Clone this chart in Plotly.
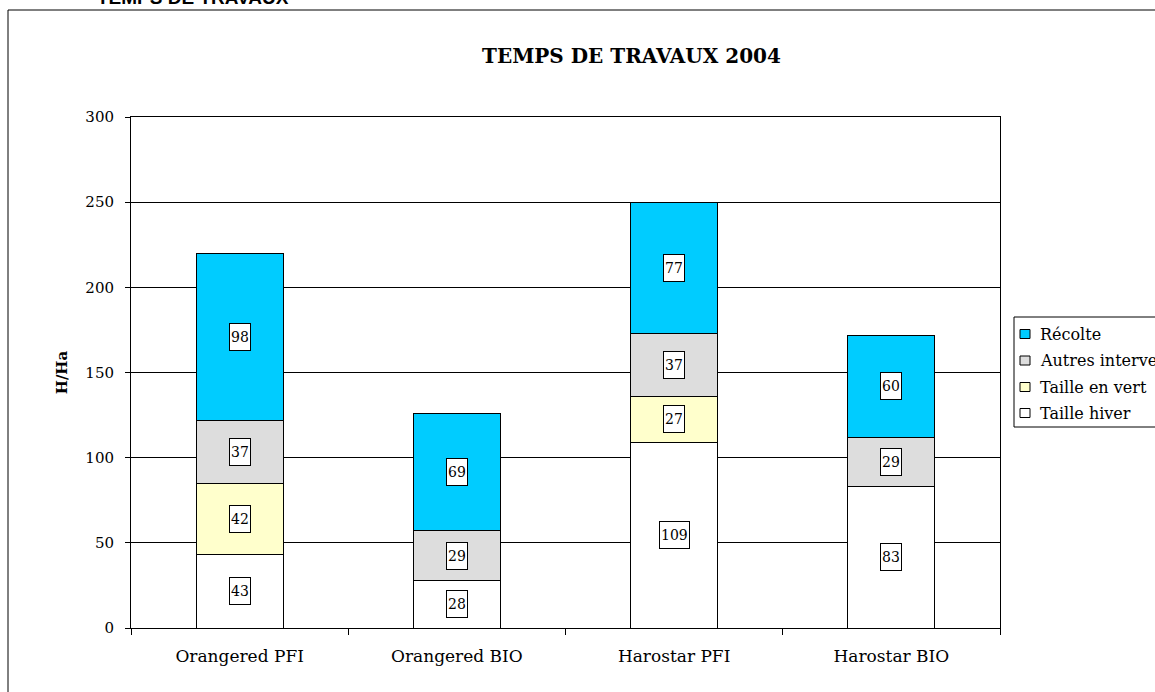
import plotly.graph_objects as go

categories = ["Orangered PFI", "Orangered BIO", "Harostar PFI", "Harostar BIO"]
taille_hiver = [43, 28, 109, 83]
taille_vert = [42, 0, 27, 0]
autres_interv = [37, 29, 37, 29]
recolte = [98, 69, 77, 60]

series_names = ["Taille hiver", "Taille en vert", "Autres interventions", "Récolte"]
series_values = [taille_hiver, taille_vert, autres_interv, recolte]
series_colors = ["#FFFFFF", "#FFFFCC", "#DDDDDD", "#00CCFF"]

SERIF = "DejaVu Serif"
FW, FH = 1155, 692

# plot area pixel geometry
L, R, T, B = 131, 1000, 117, 628
W, H = R - L, B - T
def px(x):
    return (x - L) / W
def py(y):
    return (B - y) / H

fig = go.Figure()
for name, vals, col in zip(series_names, series_values, series_colors):
    fig.add_trace(go.Bar(
        x=categories, y=vals, name=name, showlegend=False,
        marker=dict(color=col, line=dict(color="black", width=1)),
    ))

annotations = []
shapes = []

# data labels
base = [0] * len(categories)
for vals in series_values:
    for i, v in enumerate(vals):
        if v > 0:
            annotations.append(dict(
                x=categories[i], y=base[i] + v / 2, xref="x", yref="y",
                text=str(v), showarrow=False,
                font=dict(family=SERIF, size=14, color="black"),
                bgcolor="white", bordercolor="black", borderwidth=1,
                borderpad=1, height=24,
            ))
        base[i] += v

# page heading (cut off at the top, as in the original)
annotations.append(dict(
    x=px(95), y=py(-2), xref="paper", yref="paper", xanchor="left", yanchor="middle",
    text="<b>TEMPS DE TRAVAUX</b>", showarrow=False,
    font=dict(family="Liberation Sans", size=19, color="black"),
))

# outer chart border
shapes.append(dict(type="rect", xref="paper", yref="paper",
                   x0=px(8), x1=px(1300), y0=py(10), y1=py(800),
                   line=dict(color="black", width=1), fillcolor="rgba(0,0,0,0)",
                   layer="below"))

# legend (drawn to match the original layout)
shapes.append(dict(type="rect", xref="paper", yref="paper",
                   x0=px(1014), x1=px(1300), y0=py(317), y1=py(427),
                   line=dict(color="black", width=1), fillcolor="white"))
rows_y = [334, 360.5, 387, 413]
for k, idx in enumerate([3, 2, 1, 0]):
    yc = rows_y[k]
    shapes.append(dict(type="rect", xref="paper", yref="paper",
                       x0=px(1020), x1=px(1030), y0=py(yc - 4.5), y1=py(yc + 4.5),
                       line=dict(color="black", width=1), fillcolor=series_colors[idx]))
    annotations.append(dict(
        x=px(1038), y=py(yc), xref="paper", yref="paper", xanchor="left", yanchor="middle",
        text=series_names[idx], showarrow=False,
        font=dict(family=SERIF, size=16, color="black"),
    ))

fig.update_layout(
    width=FW, height=FH,
    margin=dict(l=L, r=FW - R, t=T, b=FH - B, autoexpand=False),
    paper_bgcolor="white", plot_bgcolor="white",
    barmode="stack", bargap=0.6,
    title=dict(text="<b>TEMPS DE TRAVAUX 2004</b>", x=631.5 / FW, xanchor="center",
               y=1 - 56 / FH, yanchor="middle",
               font=dict(family=SERIF, size=20, color="black")),
    font=dict(family=SERIF, color="black"),
    showlegend=False,
    annotations=annotations,
    shapes=shapes,
)
fig.update_xaxes(
    showline=True, linecolor="black", linewidth=1, mirror=True,
    ticks="outside", ticklen=6, tickcolor="black", tickson="boundaries",
    tickfont=dict(family=SERIF, size=17, color="black"),
    ticklabelstandoff=13,
    showgrid=False,
)
fig.update_yaxes(
    range=[0, 300], dtick=50, tick0=0,
    showline=True, linecolor="black", linewidth=1, mirror=True,
    ticks="outside", ticklen=5, tickcolor="black",
    ticklabelstandoff=8,
    showgrid=True, gridcolor="black", gridwidth=1,
    tickfont=dict(family=SERIF, size=15, color="black"),
    title=dict(text="<b>H/Ha</b>", font=dict(family=SERIF, size=15, color="black"), standoff=14),
    zeroline=False,
)

fig.write_html("out.html", config={"displayModeBar": False},
               post_script="document.body.style.margin='0';document.body.style.overflow='hidden';")
